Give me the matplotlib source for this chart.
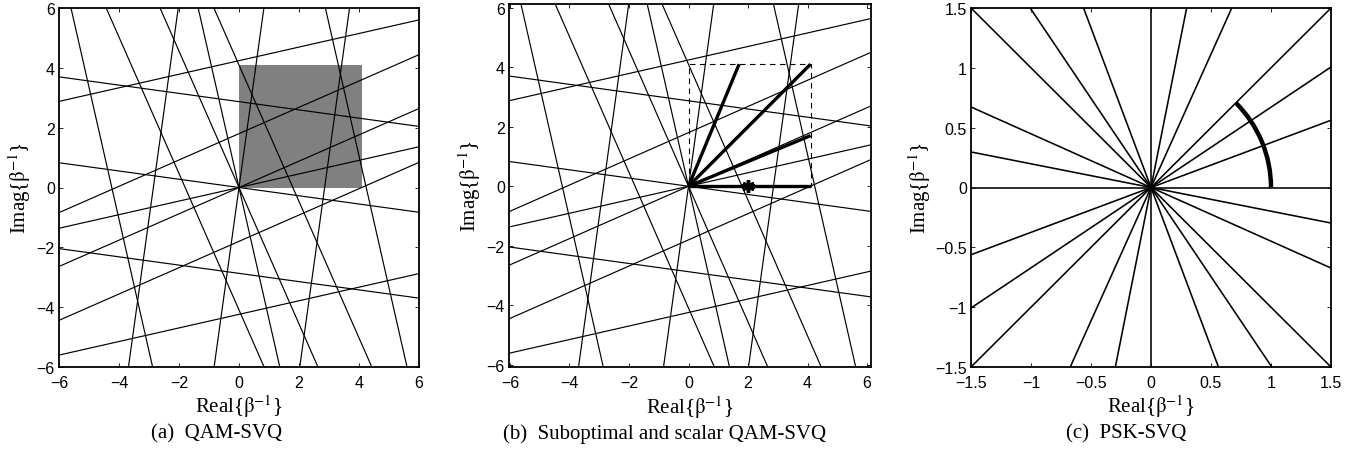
import numpy as np
import matplotlib
matplotlib.use("Agg")
import matplotlib.pyplot as plt
from matplotlib.patches import Arc, Rectangle

plt.rcParams['font.family'] = ['Liberation Sans', 'DejaVu Sans']
plt.rcParams['mathtext.fontset'] = 'stix'

# decision lines in the beta^-1 plane (QAM): shallow lines as y = m*x + c,
# steep lines as x = x0 + y/m
shallow_slopes = [0.227, 0.227, 0.227, -0.138, -0.138, -0.138, 0.44, 0.44, 0.44]
shallow_yint = [0.0, 4.24, -4.24, 0.0, 2.87, -2.87, 0.0, 1.8, -1.8]
steep_slopes = [-4.41, -4.41, -4.41, 7.23, 7.23, 7.23, -2.28, -2.28, -2.28]
steep_xint = [0.0, 4.24, -4.24, 0.0, 2.855, -2.855, 0.0, 1.795, -1.795]

# quantiser region and the suboptimal search directions
box_side = 4.1
vec_re = [4.1, 4.1, 4.1, 1.7]
vec_im = [0.0, 1.7, 4.1, 4.1]
star_re = [2.0]
star_im = [0.0]

# PSK decision lines (angle in degrees, all through the origin)
psk_angles = [0, 20.54, 33.87, 45, 65.84, 78.8, 90, 110.54, 123.87, 135, 155.84, 168.8]
arc_radius = 1.0
arc_span = (0, 45)

qam_ticks = [-6, -4, -2, 0, 2, 4, 6]
psk_ticks = [-1.5, -1, -0.5, 0, 0.5, 1, 1.5]

W, H = 1361, 460
fig = plt.figure(figsize=(W / 100, H / 100), dpi=100)


def add_ax(left, right, top, bottom):
    return fig.add_axes([left / W, 1 - bottom / H, (right - left) / W, (bottom - top) / H])


def draw_qam_lines(ax):
    xs = np.array([-8.0, 8.0])
    for m, c in zip(shallow_slopes, shallow_yint):
        ax.plot(xs, m * xs + c, color='k', lw=0.85, zorder=2)
    ys = np.array([-8.0, 8.0])
    for m, x0 in zip(steep_slopes, steep_xint):
        ax.plot(x0 + ys / m, ys, color='k', lw=0.85, zorder=2)


def style(ax, ticks, lims_x, lims_y, ylab_x):
    ax.set_xlim(*lims_x)
    ax.set_ylim(*lims_y)
    ax.set_xticks(ticks)
    ax.set_yticks(ticks)
    ax.set_xticklabels([f'{t:g}'.replace('-', '\u2212') for t in ticks])
    ax.set_yticklabels([f'{t:g}'.replace('-', '\u2212') for t in ticks])
    ax.tick_params(direction='in', length=3, width=0.6, top=True, right=True,
                   labelsize=11.5)
    ax.tick_params(axis='x', pad=6)
    ax.tick_params(axis='y', pad=3)
    for s in ax.spines.values():
        s.set_linewidth(1.3)
    ax.set_xlabel(r'Real{$\mathrm{\beta}^{-1}$}', family='Liberation Serif',
                  fontsize=15, va='center')
    ax.xaxis.set_label_coords(0.5, -0.108)
    ax.set_ylabel(r'Imag{$\mathrm{\beta}^{-1}$}', family='Liberation Serif',
                  fontsize=15, va='center')
    ax.yaxis.set_label_coords(ylab_x, 0.5)


# (a) QAM-SVQ
ax1 = add_ax(59, 419, 9, 368)
ax1.add_patch(Rectangle((0, 0), box_side, box_side, color='#808080', lw=0, zorder=1))
draw_qam_lines(ax1)
style(ax1, qam_ticks, (-6, 6), (-6, 6), -0.108)

# (b) suboptimal and scalar QAM-SVQ
ax2 = add_ax(509, 871, 5, 368)
draw_qam_lines(ax2)
ax2.add_patch(Rectangle((0, 0), box_side, box_side, fill=False, ls=(0, (5, 4)),
                        lw=0.8, ec='k', zorder=3))
for xr, yi in zip(vec_re, vec_im):
    ax2.plot([0, xr], [0, yi], color='k', lw=2.4, solid_capstyle='butt', zorder=4)
ax2.plot(star_re, star_im, marker=(6, 2, 0), ms=9, mew=2.5, color='k',
         ls='none', zorder=5)
style(ax2, qam_ticks, (-6.03, 6.13), (-6.07, 6.12), -0.108)

# (c) PSK-SVQ
ax3 = add_ax(971, 1331, 9, 368)
for a in psk_angles:
    t = np.deg2rad(a)
    r = np.array([-3.0, 3.0])
    ax3.plot(r * np.cos(t), r * np.sin(t), color='k', lw=1.15, zorder=2)
ax3.add_patch(Arc((0, 0), 2 * arc_radius, 2 * arc_radius, theta1=arc_span[0],
                  theta2=arc_span[1], lw=3.2, color='k', zorder=3))
style(ax3, psk_ticks, (-1.5, 1.5), (-1.5, 1.5), -0.142)

captions = ['(a)  QAM-SVQ', '(b)  Suboptimal and scalar QAM-SVQ', '(c)  PSK-SVQ']
cap_x = [217, 665, 1126]
for cx, txt in zip(cap_x, captions):
    fig.text(cx / W, 1 - 434 / H, txt, ha='center', va='center',
             family='Liberation Serif', fontsize=15)

fig.savefig('out.png', dpi=100)
